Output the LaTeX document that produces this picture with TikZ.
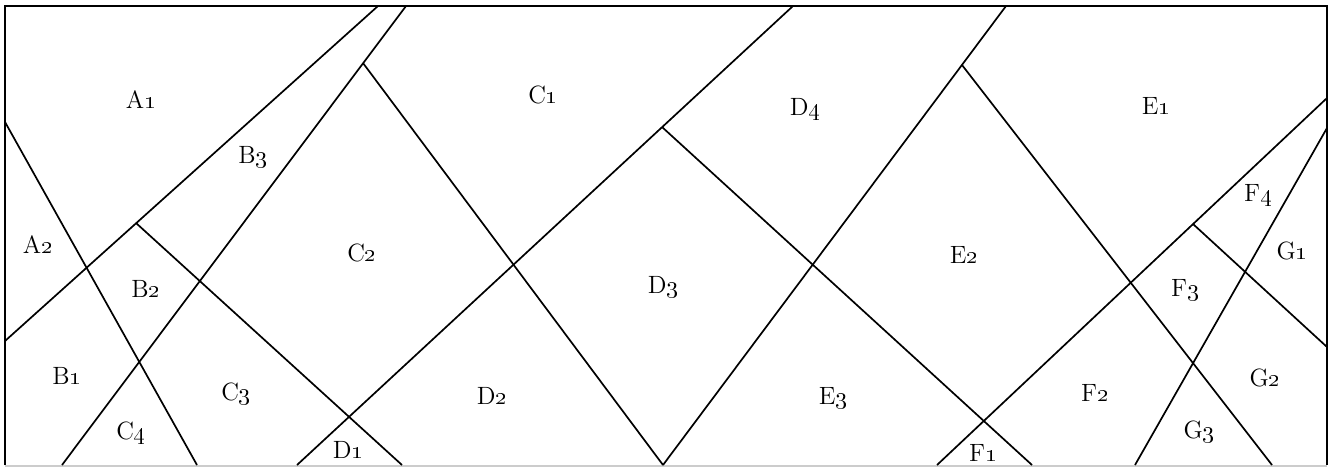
\documentclass[tikz,border=0pt]{standalone}
\newcommand{\os}[1]{\oldstylenums{#1}}
\begin{document}
\begin{tikzpicture}[x=0.5pt,y=-0.5pt,
  seg/.style={line width=0.85pt,black},
  frm/.style={line width=0.9pt,black},
  lbl/.style={inner sep=0pt,font=\fontsize{12.5}{14}\selectfont}]
\useasboundingbox (0,0) rectangle (1333,467);
% frame
\draw[frm] (5,465) -- (5,6) -- (1327,6) -- (1327,465);
\draw[line width=0.6pt,black!20] (5,466) -- (1327,466);
% coordinates
\coordinate (l1a) at (378,6);   \coordinate (l1b) at (5,341);
\coordinate (l2a) at (406,6);   \coordinate (l2b) at (62,465);
\coordinate (l3a) at (5,122);   \coordinate (l3b) at (197,465);
\coordinate (l4a) at (136,223); \coordinate (l4b) at (402,465);
\coordinate (l5a) at (363,63);  \coordinate (l5b) at (663,465);
\coordinate (l6a) at (1006,6);  \coordinate (l6b) at (663,465);
\coordinate (l7a) at (793,6);   \coordinate (l7b) at (297,465);
\coordinate (l8a) at (662,127); \coordinate (l8b) at (1032,465);
\coordinate (l9a) at (962,65);  \coordinate (l9b) at (1272,465);
\coordinate (l10a) at (1327,98); \coordinate (l10b) at (937,465);
\coordinate (l11a) at (1193,224); \coordinate (l11b) at (1327,347);
\coordinate (l12a) at (1327,128); \coordinate (l12b) at (1135,465);
\foreach \i in {1,...,12} {\draw[seg] (l\i a) -- (l\i b);}
% labels
\node[lbl] (A1) at (141,100) {A\os{1}};
\node[lbl] (A2) at (38,245) {A\os{2}};
\node[lbl] (B1) at (67,376) {B\os{1}};
\node[lbl] (B2) at (146,289) {B\os{2}};
\node[lbl] (B3) at (253,157) {B\os{3}};
\node[lbl] (C1) at (543,95) {C\os{1}};
\node[lbl] (C2) at (362,253) {C\os{2}};
\node[lbl] (C3) at (236,394) {C\os{3}};
\node[lbl] (C4) at (131,433) {C\os{4}};
\node[lbl] (D1) at (348,450) {D\os{1}};
\node[lbl] (D2) at (492,396) {D\os{2}};
\node[lbl] (D3) at (663,287) {D\os{3}};
\node[lbl] (D4) at (805,109) {D\os{4}};
\node[lbl] (E1) at (1156,106) {E\os{1}};
\node[lbl] (E2) at (964,255) {E\os{2}};
\node[lbl] (E3) at (833,398) {E\os{3}};
\node[lbl] (F1) at (983,453) {F\os{1}};
\node[lbl] (F2) at (1095,393) {F\os{2}};
\node[lbl] (F3) at (1185,290) {F\os{3}};
\node[lbl] (F4) at (1258,195) {F\os{4}};
\node[lbl] (G1) at (1292,251) {G\os{1}};
\node[lbl] (G2) at (1265,378) {G\os{2}};
\node[lbl] (G3) at (1199,432) {G\os{3}};
\end{tikzpicture}
\end{document}
